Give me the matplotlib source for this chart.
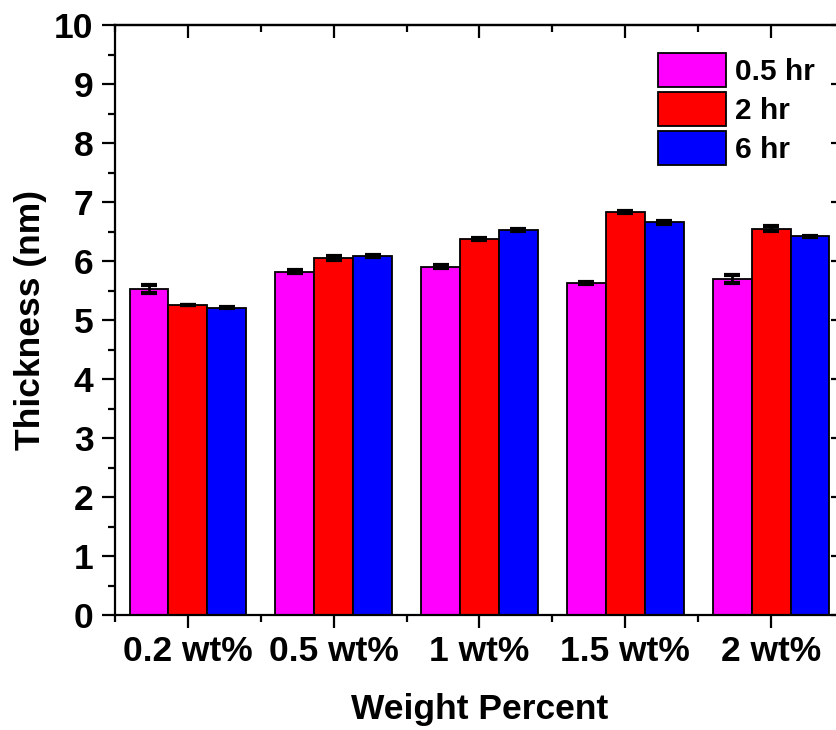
import matplotlib
matplotlib.use("Agg")
import matplotlib.pyplot as plt
import numpy as np
from matplotlib.ticker import MultipleLocator, FixedLocator

plt.rcParams['font.family'] = ['Liberation Sans', 'DejaVu Sans']
plt.rcParams['font.weight'] = 'bold'
plt.rcParams['axes.labelweight'] = 'bold'

categories = ["0.2 wt%", "0.5 wt%", "1 wt%", "1.5 wt%", "2 wt%"]
series_names = ["0.5 hr", "2 hr", "6 hr"]
vals_05 = [5.53, 5.82, 5.90, 5.63, 5.70]
vals_2 = [5.26, 6.05, 6.37, 6.83, 6.55]
vals_6 = [5.21, 6.09, 6.52, 6.66, 6.42]
err_05 = [0.07, 0.03, 0.025, 0.02, 0.065]
err_2 = [0.0, 0.03, 0.015, 0.015, 0.035]
err_6 = [0.01, 0.015, 0.015, 0.025, 0.01]
colors = ["#FF00FF", "#FF0000", "#0000FF"]

W, H = 837, 730
fig = plt.figure(figsize=(W / 100, H / 100), dpi=100)
ax = fig.add_axes([115 / W, (H - 615) / H, (844 - 115) / W, 590 / H])

x = np.arange(len(categories))
bw = 0.267
series = [vals_05, vals_2, vals_6]
errs = [err_05, err_2, err_6]
for i, (v, e, c, n) in enumerate(zip(series, errs, colors, series_names)):
    ax.bar(x + (i - 1) * bw, v, width=bw, color=c, edgecolor='black', linewidth=1.3,
           label=n, zorder=2)
    ax.errorbar(x + (i - 1) * bw, v, yerr=e, fmt='none', ecolor='black',
                elinewidth=2.0, capsize=5.5, capthick=3.0, zorder=3)

ax.set_xlim(-0.5, len(categories) - 0.5)
ax.set_ylim(0, 10)
ax.set_xticks(x)
ax.set_xticklabels(categories)
ax.xaxis.set_minor_locator(FixedLocator(np.arange(-0.5, len(categories), 1.0)))
ax.yaxis.set_major_locator(MultipleLocator(1))
ax.yaxis.set_minor_locator(MultipleLocator(0.5))

for s in ax.spines.values():
    s.set_linewidth(1.6)

ax.tick_params(which='both', direction='out', width=1.6, labelsize=25.5)
ax.tick_params(which='major', length=9.5)
ax.tick_params(which='minor', length=5)
ax.tick_params(axis='y', which='major', pad=6)
ax.tick_params(axis='x', which='major', pad=5)

# top and right inward ticks via secondary axes
top = ax.secondary_xaxis('top')
top.set_xticks(x)
top.xaxis.set_minor_locator(FixedLocator(np.arange(-0.5, len(categories), 1.0)))
top.tick_params(which='both', direction='in', width=1.6, labeltop=False)
top.tick_params(which='major', length=9.5)
top.tick_params(which='minor', length=5)
top.spines['top'].set_linewidth(1.6)
right = ax.secondary_yaxis('right')
right.yaxis.set_major_locator(MultipleLocator(1))
right.yaxis.set_minor_locator(MultipleLocator(0.5))
right.tick_params(which='both', direction='in', width=1.6, labelright=False)
right.tick_params(which='major', length=9.5)
right.tick_params(which='minor', length=5)

ax.set_xlabel("Weight Percent", fontsize=25.5, labelpad=18)
ax.set_ylabel("Thickness (nm)", fontsize=25.5, labelpad=5)

leg = ax.legend(loc='upper left', bbox_to_anchor=(658 / W, 1 - 53 / H),
                bbox_transform=fig.transFigure, frameon=False, fontsize=21.5,
                handlelength=2.27, handleheight=1.37, labelspacing=0.17,
                handletextpad=0.3, borderpad=0, borderaxespad=0)
for p in leg.get_patches():
    p.set_linewidth(1.3)

fig.savefig("out.png", dpi=100)
